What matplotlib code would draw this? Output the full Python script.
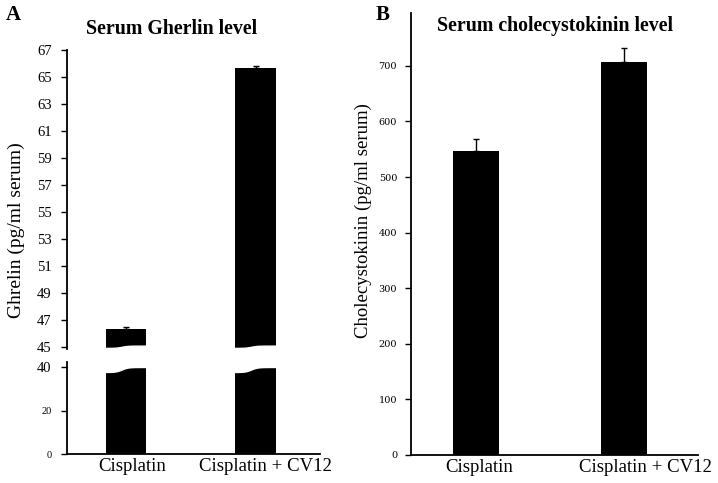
"""Serum ghrelin / cholecystokinin 2-panel bar chart (A: broken y-axis, B: plain)."""
import matplotlib.pyplot as plt
import numpy as np
from matplotlib import transforms

groups = ["Cisplatin", "Cisplatin + CV12"]
ghrelin = [46.33, 65.67]
ghrelin_err = [0.15, 0.15]
cck = [547, 707]
cck_err = [21, 25]

ghrelin_hi_ticks = list(range(45, 68, 2))
ghrelin_lo_ticks = [0, 20, 40]
cck_ticks = list(range(0, 701, 100))

W, H = 718, 483
BAR_W = 0.31


def rect(x0, y0, x1, y1):
    # pixel box (top-left origin) -> figure fraction
    return [x0 / W, 1 - y1 / H, (x1 - x0) / W, (y1 - y0) / H]


def wave(t, lo, hi):
    return lo + (hi - lo) * (1 + np.tanh((t - 0.4) * 7)) / 2


def shift_xlabels(ax, fig, dxs):
    for lab, dx in zip(ax.get_xticklabels(), dxs):
        lab.set_transform(lab.get_transform()
                          + transforms.ScaledTranslation(dx / 100, 0, fig.dpi_scale_trans))


plt.rcParams["font.family"] = ["Liberation Serif", "DejaVu Serif"]
plt.rcParams["axes.linewidth"] = 1.3

fig = plt.figure(figsize=(W / 100, H / 100), dpi=100)
x = np.arange(len(groups))

# ---- panel A, upper and lower part of the broken axis
ax_hi = fig.add_axes(rect(67, 50, 320, 349))
ax_lo = fig.add_axes(rect(67, 362, 320, 454))
for ax in (ax_hi, ax_lo):
    ax.bar(x, ghrelin, width=BAR_W, color="black", zorder=2)
    ax.set_xlim(-0.456, 1.498)
    ax.spines[["top", "right"]].set_visible(False)
    ax.tick_params(axis="y", length=4, width=1, pad=7, labelsize=10.5)

ax_hi.errorbar(x, ghrelin, yerr=[np.zeros(2), ghrelin_err], fmt="none",
               ecolor="black", elinewidth=1, capsize=2.5, capthick=1, zorder=3)
ax_hi.set_ylim(44.85, 67)
ax_hi.set_yticks(ghrelin_hi_ticks)
ax_hi.spines["bottom"].set_visible(False)
ax_hi.set_xticks([])

ax_lo.set_ylim(0, 42.3)
ax_lo.set_yticks(ghrelin_lo_ticks)
for lab, fs in zip(ax_lo.get_yticklabels(), [7.5, 7.5, 10.5]):
    lab.set_fontsize(fs)
ax_lo.set_xticks(x)
ax_lo.set_xticklabels(groups, fontsize=13.5)
ax_lo.tick_params(axis="x", length=0, pad=3)
shift_xlabels(ax_lo, fig, [6, 10])

# wavy break on the bars
t = np.linspace(0, 1, 60)
for xc in x:
    xs = xc - BAR_W / 2 - 0.01 + t * (BAR_W + 0.02)
    ax_lo.fill_between(xs, wave(t, 37.7, 40.0), 43, color="white", zorder=2.5)
    ax_hi.fill_between(xs, 44.8, wave(t, 44.93, 45.1), color="white", zorder=2.5)

# ---- panel B
ax_b = fig.add_axes(rect(411, 13, 698, 455))
ax_b.bar(x, cck, width=BAR_W, color="black", zorder=2)
ax_b.errorbar(x, cck, yerr=[np.zeros(2), cck_err], fmt="none",
              ecolor="black", elinewidth=1, capsize=2.5, capthick=1, zorder=3)
ax_b.set_xlim(-0.44, 1.5)
ax_b.set_ylim(0, 795)
ax_b.set_yticks(cck_ticks)
ax_b.spines[["top", "right"]].set_visible(False)
ax_b.tick_params(axis="y", length=4, width=1, pad=6)
for lab in ax_b.get_yticklabels():
    lab.set_fontfamily("DejaVu Serif")
    lab.set_fontsize(7)
ax_b.set_xticks(x)
ax_b.set_xticklabels(groups, fontsize=13.5)
ax_b.tick_params(axis="x", length=0, pad=3)
shift_xlabels(ax_b, fig, [3, 21])

# ---- text
fig.text(13 / W, 1 - 15 / H, "A", fontsize=15, fontweight="bold", ha="center", va="center")
fig.text(383 / W, 1 - 15 / H, "B", fontsize=15, fontweight="bold", ha="center", va="center")
fig.text(172 / W, 1 - 29 / H, "Serum Gherlin level", fontsize=14.3,
         fontweight="bold", ha="center", va="center")
fig.text(555 / W, 1 - 26 / H, "Serum cholecystokinin level", fontsize=14.3,
         fontweight="bold", ha="center", va="center")
fig.text(16 / W, 1 - 230 / H, "Ghrelin (pg/ml serum)", fontsize=14,
         rotation=90, ha="center", va="center")
fig.text(363 / W, 1 - 221 / H, "Cholecystokinin (pg/ml serum)", fontsize=13.5,
         rotation=90, ha="center", va="center")

fig.savefig("out.png", dpi=100)
